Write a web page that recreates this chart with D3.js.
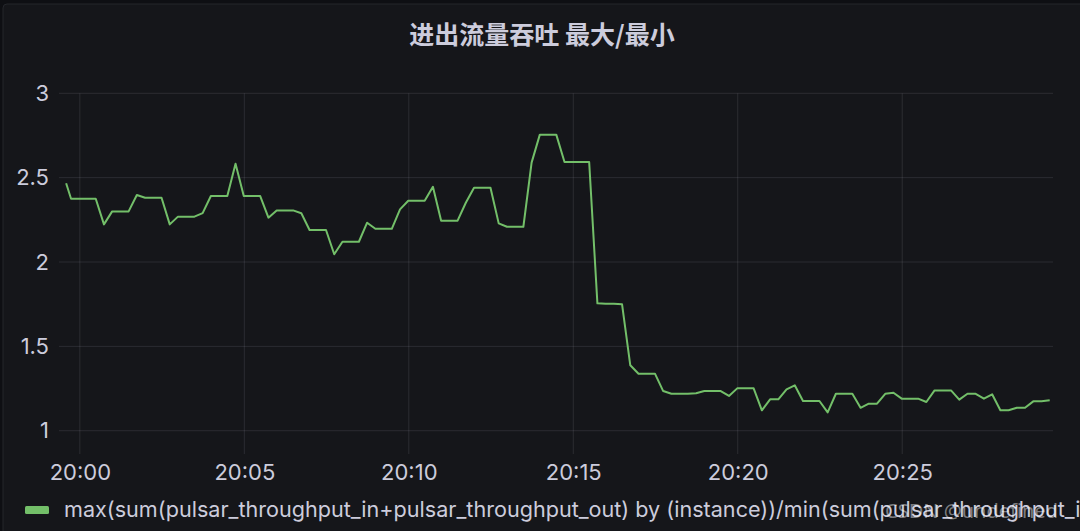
<!DOCTYPE html>
<html>
<head>
<meta charset="utf-8">
<script src="https://cdn.jsdelivr.net/npm/d3@7"></script>
<style>
  html, body { margin: 0; padding: 0; background: #0e0f13; overflow: hidden; }
  svg { display: block; }
</style>
</head>
<body>
<svg id="chart" width="1080" height="531"></svg>
<script>
// title + legend
var chartTitle = "进出流量吞吐 最大/最小";
var seriesName = "max(sum(pulsar_throughput_in+pulsar_throughput_out) by (instance))/min(sum(pulsar_throughput_in+pulsar_throughput_out) by (instance))";

// y ticks
var yTicks = [1, 1.5, 2, 2.5, 3];

// first sample is off the 15s grid
var firstTime = "19:59:35";
var firstValue = 2.467;

// then one sample every 15s from here
var startTime = "19:59:44";
var stepSeconds = 15;
var ratioValues = [
  2.375, 2.375, 2.375, 2.375, 2.223, 2.30, 2.30, 2.30,
  2.397, 2.381, 2.381, 2.381, 2.223, 2.269, 2.269, 2.269,
  2.29, 2.391, 2.391, 2.391, 2.583, 2.391, 2.391, 2.391,
  2.263, 2.306, 2.306, 2.306, 2.289, 2.19, 2.19, 2.19,
  2.046, 2.12, 2.12, 2.12, 2.233, 2.197, 2.197, 2.197,
  2.312, 2.363, 2.363, 2.363, 2.446, 2.245, 2.245, 2.245,
  2.351, 2.44, 2.44, 2.44, 2.229, 2.209, 2.209, 2.209,
  2.589, 2.755, 2.755, 2.755, 2.593, 2.593, 2.593, 2.593,
  1.755, 1.752, 1.752, 1.749, 1.388, 1.338, 1.338, 1.338,
  1.235, 1.219, 1.219, 1.219, 1.222, 1.235, 1.235, 1.235,
  1.206, 1.251, 1.251, 1.251, 1.121, 1.186, 1.186, 1.245,
  1.269, 1.176, 1.176, 1.176, 1.109, 1.219, 1.219, 1.219,
  1.136, 1.16, 1.16, 1.219, 1.225, 1.19, 1.19, 1.19,
  1.17, 1.239, 1.239, 1.239, 1.184, 1.219, 1.219, 1.19,
  1.216, 1.121, 1.121, 1.136, 1.136, 1.174, 1.174, 1.18
];

var parseTime = d3.timeParse("%H:%M:%S");

var points = [{t: parseTime(firstTime), v: firstValue}];
var t0 = parseTime(startTime);
ratioValues.forEach(function(v, i){
  points.push({t: d3.timeSecond.offset(t0, i * stepSeconds), v: v});
});

var svg = d3.select('#chart');
var W = 1080, H = 531;
var plot = {left: 59, right: 1053, top: 93.3, bottom: 454};

var textColor = "#ccccdc";
var gridColor = "rgba(204,204,220,0.12)";
var lineColor = "#73bf69";

// panel
svg.append('rect')
  .attr('x', 3).attr('y', 4)
  .attr('width', W + 10).attr('height', H + 10)
  .attr('rx', 4)
  .attr('fill', '#15161a')
  .attr('stroke', '#24262b')
  .attr('stroke-width', 1);

svg.append('text')
  .attr('x', 542)
  .attr('y', 44)
  .attr('text-anchor', 'middle')
  .attr('font-family', '"Noto Sans CJK SC", "Noto Sans", sans-serif')
  .attr('font-size', '25px')
  .attr('font-weight', 700)
  .attr('fill', textColor)
  .text(chartTitle);

var x = d3.scaleTime()
  .domain([parseTime("19:59:22"), parseTime("20:29:35")])
  .range([plot.left, plot.right]);

var y = d3.scaleLinear()
  .domain([0.862, 3])
  .range([plot.bottom, plot.top]);

// grid
svg.append('g')
  .selectAll('line')
  .data(yTicks)
  .enter().append('line')
  .attr('x1', plot.left).attr('x2', plot.right)
  .attr('y1', function(d){ return y(d); })
  .attr('y2', function(d){ return y(d); })
  .attr('stroke', gridColor);

var xTicks = x.ticks(d3.timeMinute.every(5));
svg.append('g')
  .selectAll('line')
  .data(xTicks)
  .enter().append('line')
  .attr('x1', function(d){ return x(d); })
  .attr('x2', function(d){ return x(d); })
  .attr('y1', plot.top).attr('y2', plot.bottom)
  .attr('stroke', gridColor);

// axes
var yAxis = svg.append('g')
  .attr('transform', 'translate(' + (plot.left - 10) + ',0)')
  .call(d3.axisLeft(y).tickValues(yTicks).tickFormat(d3.format("~g")).tickSize(0).tickPadding(0));
yAxis.select('.domain').remove();
yAxis.selectAll('text')
  .attr('font-family', 'Inter, Roboto, sans-serif')
  .attr('font-size', '22px')
  .attr('fill', textColor);

var xAxis = svg.append('g')
  .attr('transform', 'translate(0,' + (plot.bottom + 10) + ')')
  .call(d3.axisBottom(x).tickValues(xTicks).tickFormat(d3.timeFormat("%H:%M")).tickSize(0).tickPadding(0));
xAxis.select('.domain').remove();
xAxis.selectAll('text')
  .attr('font-family', 'Inter, Roboto, sans-serif')
  .attr('font-size', '22px')
  .attr('fill', textColor);

// series
var line = d3.line()
  .x(function(d){ return x(d.t); })
  .y(function(d){ return y(d.v); });

svg.append('path')
  .datum(points)
  .attr('d', line)
  .attr('fill', 'none')
  .attr('stroke', lineColor)
  .attr('stroke-width', 2)
  .attr('stroke-linejoin', 'round');

// legend
svg.append('rect')
  .attr('x', 25).attr('y', 506)
  .attr('width', 24).attr('height', 8)
  .attr('rx', 1.5)
  .attr('fill', lineColor);

svg.append('text')
  .attr('x', 64)
  .attr('y', 517)
  .attr('font-family', 'Inter, Roboto, sans-serif')
  .attr('font-size', '21.6px')
  .attr('fill', textColor)
  .text(seriesName);

// watermark
svg.append('text')
  .attr('x', 1058)
  .attr('y', 518)
  .attr('text-anchor', 'end')
  .attr('font-family', '"Noto Sans", sans-serif')
  .attr('font-size', '20px')
  .attr('fill', '#ffffff')
  .attr('fill-opacity', 0.45)
  .text("CSDN @undefined");
</script>
</body>
</html>
